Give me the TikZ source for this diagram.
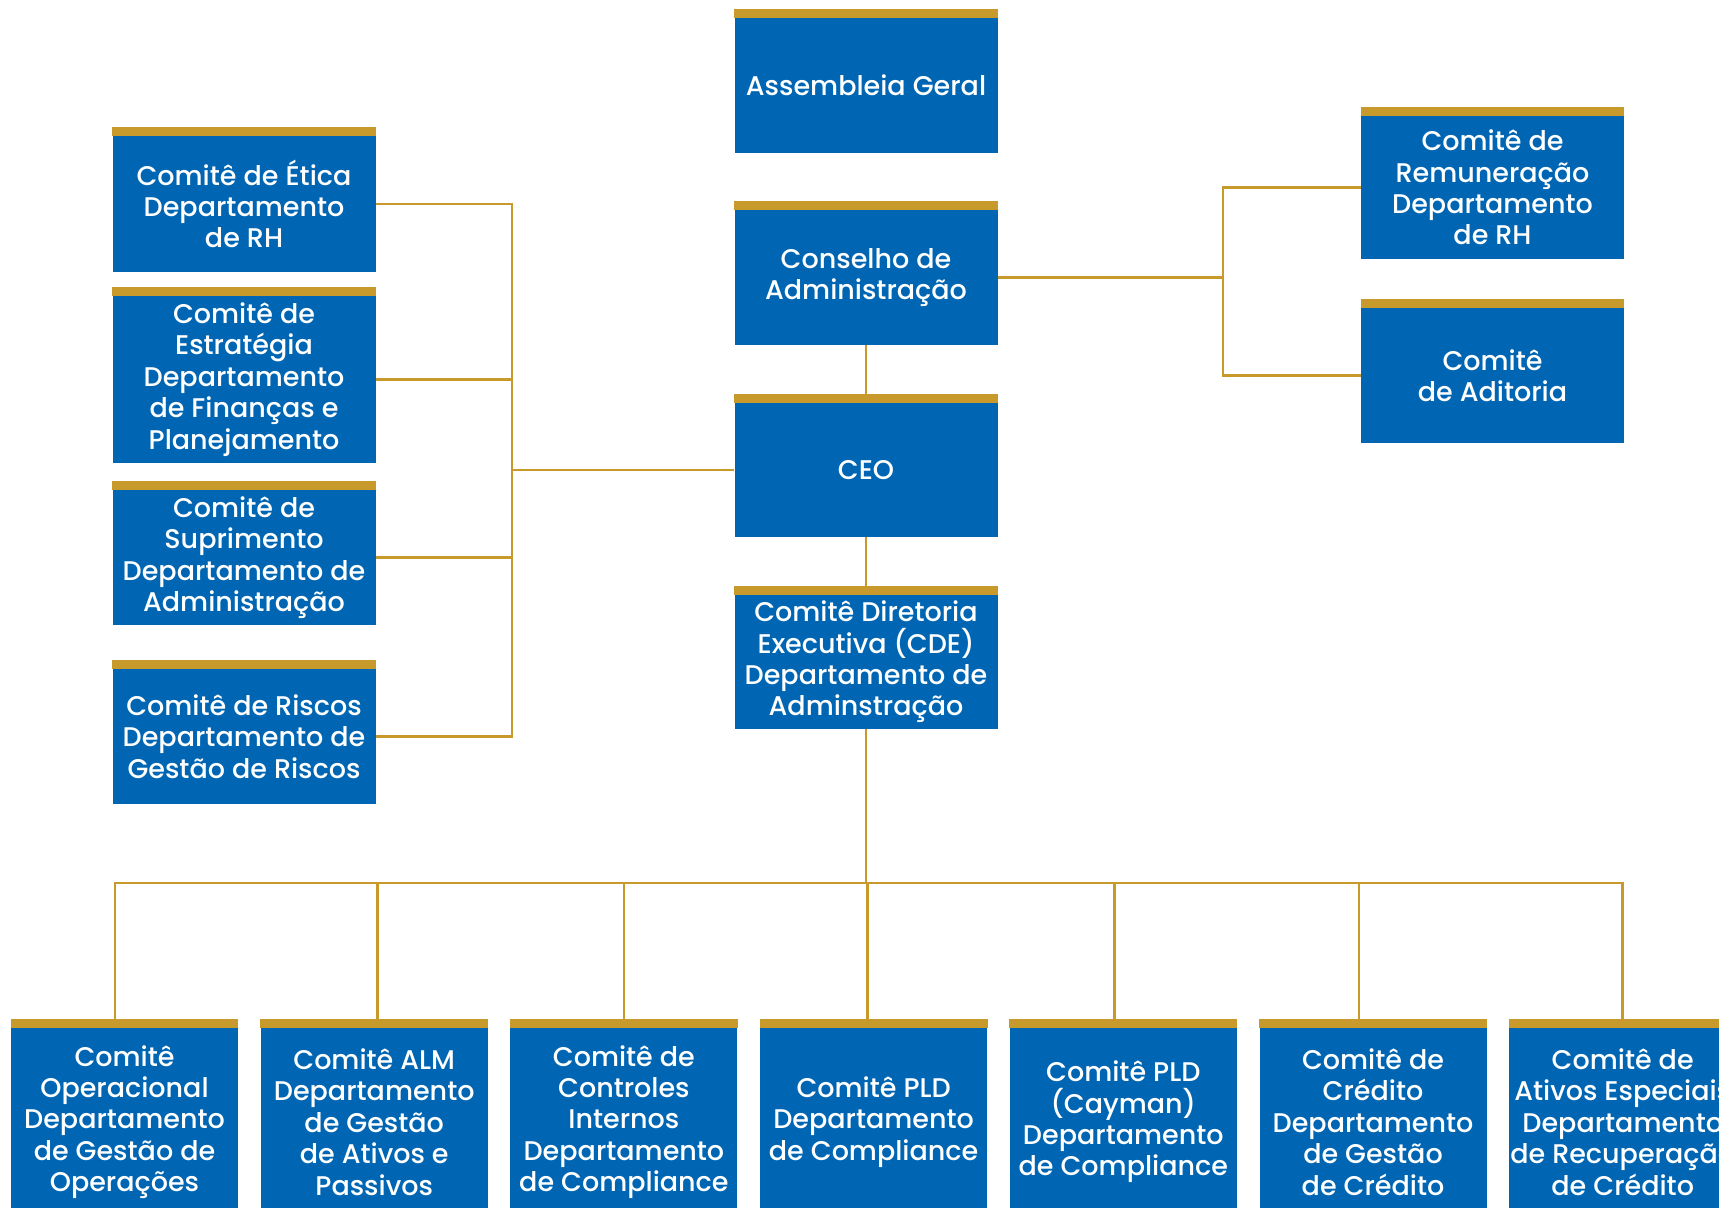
\documentclass[tikz,border=0pt]{standalone}
\usepackage{fontspec}
\setmainfont{Poppins Medium}
\usetikzlibrary{positioning,calc}
\definecolor{orgblue}{HTML}{0066B3}
\definecolor{orggold}{HTML}{C89A2C}

\begin{document}
\begin{tikzpicture}[
    x=0.5pt, y=-0.5pt,
    box/.style={fill=orgblue, text=white, inner sep=0pt, align=center, font=\fontsize{13.5}{15.7}\selectfont, minimum width=131.5pt},
    low/.style={box, minimum width=113.5pt, minimum height=94pt},
    link/.style={draw=orggold, line width=1.4pt}
]
\useasboundingbox (0,0) rectangle (1719,1207);

% central column
\node[box, minimum height=67.5pt] (ag) at (866,85.5) {Assembleia Geral};
\node[box, minimum height=67.5pt] (conselho) at (866,277.5) {Conselho de\\Administração};
\node[box, minimum height=67pt] (ceo) at (866,470) {CEO};
\node[box, minimum height=67pt] (cde) at (866,662) {Comitê Diretoria\\Executiva (CDE)\\Departamento de\\Adminstração};

% left column
\node[box, minimum height=68pt] (etica) at (244,204) {Comitê de Ética\\Departamento\\de RH};
\node[box, minimum height=83.5pt] (estrategia) at (244,379.5) {Comitê de\\Estratégia\\Departamento\\de Finanças e\\Planejamento};
\node[box, minimum height=67.5pt] (suprimento) at (244,557.5) {Comitê de\\Suprimento\\Departamento de\\Administração};
\node[box, minimum height=67.5pt] (riscos) at (244,736.5) {Comitê de Riscos\\Departamento de\\Gestão de Riscos};

% right column
\node[box, minimum height=71.5pt] (remuneracao) at (1492.5,187.5) {Comitê de\\Remuneração\\Departamento\\de RH};
\node[box, minimum height=67.5pt] (auditoria) at (1492.5,375.5) {Comitê\\de Aditoria};

% bottom row
\foreach \n/\t [count=\i from 0] in {
    op/{Comitê\\Operacional\\Departamento\\de Gestão de\\Operações},
    alm/{Comitê ALM\\Departamento\\de Gestão\\de Ativos e\\Passivos},
    ctrl/{Comitê de\\Controles\\Internos\\Departamento\\de Compliance},
    pld/{Comitê PLD\\Departamento\\de Compliance},
    cayman/{Comitê PLD\\(Cayman)\\Departamento\\de Compliance},
    credito/{Comitê de\\Crédito\\Departamento\\de Gestão\\de Crédito},
    ativos/{Comitê de\\Ativos Especiais\\Departamento\\de Recuperação\\de Crédito}}
    \node[low] (\n) at (124.5+249.7*\i,1122) {\t};

% connectors
\coordinate (lbus) at (512,470);
\coordinate (rbus) at (1223,277.5);
\coordinate (bbus) at (866,883);
\draw[link] (conselho) -- (ceo);
\draw[link] (ceo) -- (cde);
\draw[link] (ceo.west) -- (lbus);
\foreach \n in {etica,estrategia,suprimento,riscos}
    \draw[link] (\n.east) -| (lbus);
\draw[link] (conselho.east) -- (rbus);
\foreach \n in {remuneracao,auditoria}
    \draw[link] (\n.west) -| (rbus);
\draw[link] (cde) -- (bbus);
% drops sit a little off the box centres
\foreach \n/\d in {op/-9.5,alm/3,ctrl/0,pld/-6,cayman/-9,credito/-14,ativos/0}
    \draw[link] (bbus) -| ([xshift=\d*0.5pt]\n.north);

% gold bars on top of every box
\foreach \n in {ag,conselho,ceo,cde,etica,estrategia,suprimento,riscos,remuneracao,auditoria,op,alm,ctrl,pld,cayman,credito,ativos}
    \fill[orggold] (\n.north west) rectangle ([yshift=4.25pt]\n.north east);
\end{tikzpicture}
\end{document}
